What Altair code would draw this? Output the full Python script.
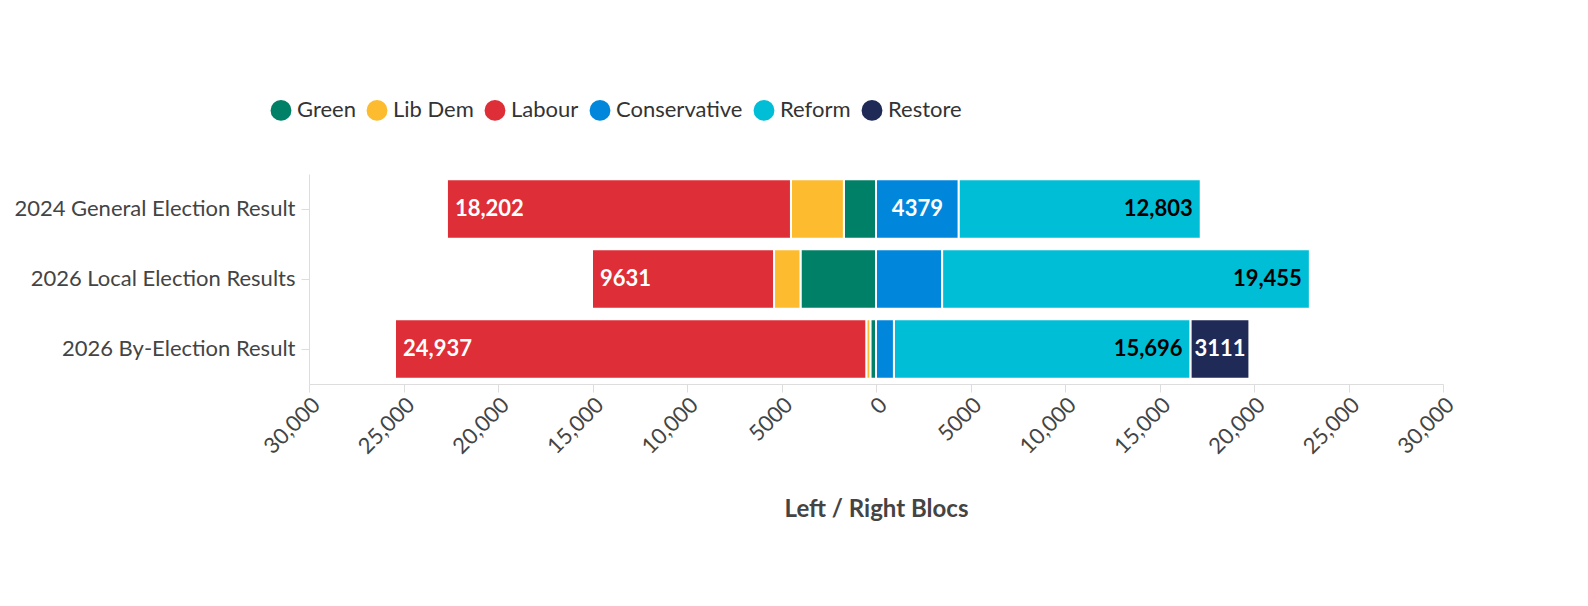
import altair as alt
import pandas as pd

rows = ["2024 General Election Result", "2026 Local Election Results", "2026 By-Election Result"]
parties = ["Green", "Lib Dem", "Labour", "Conservative", "Reform", "Restore"]
colors = ["#008066", "#FDBB30", "#DE2E37", "#0087DC", "#00BED6", "#1F2A56"]
left_parties = {"Green", "Lib Dem", "Labour"}
votes = {
    "Green":        [1700, 3995, 300],
    "Lib Dem":      [2800, 1400, 213],
    "Labour":       [18202, 9631, 24937],
    "Conservative": [4379, 3500, 950],
    "Reform":       [12803, 19455, 15696],
    "Restore":      [0, 0, 3111],
}
shown = {("2024 General Election Result", "Labour"), ("2024 General Election Result", "Conservative"),
         ("2024 General Election Result", "Reform"), ("2026 Local Election Results", "Labour"),
         ("2026 Local Election Results", "Reform"), ("2026 By-Election Result", "Labour"),
         ("2026 By-Election Result", "Reform"), ("2026 By-Election Result", "Restore")}

def fmt(v):
    return f"{v:,}" if v >= 10000 else str(v)

recs = []
for i, r in enumerate(rows):
    neg, pos = 0, 0
    for k, p in enumerate(parties):
        v = votes[p][i]
        if p in left_parties:
            x0, x1 = neg, neg - v
            neg = x1
        else:
            x0, x1 = pos, pos + v
            pos = x1
        recs.append(dict(row=r, party=p, order=k, x0=x0, x1=x1, votes=v,
                         label=fmt(v) if (r, p) in shown else "",
                         mid=(x0 + x1) / 2))
df = pd.DataFrame(recs)
df = df[df.votes > 0]

xscale = alt.Scale(domain=[-30000, 30000])
yenc = alt.Y("row:N", sort=rows, title=None,
             axis=alt.Axis(labelFontSize=22, labelColor="#444", labelFont="Lato", labelLimit=0,
                           domainColor="#ddd", tickColor="#ddd", tickSize=8, labelPadding=6))
bars = alt.Chart(df).mark_bar(stroke="white", strokeWidth=2).encode(
    x=alt.X("x0:Q", scale=xscale, title="Left / Right Blocs",
            axis=alt.Axis(values=list(range(-30000, 30001, 5000)), grid=False,
                          labelExpr="abs(datum.value) >= 10000 ? format(abs(datum.value), ',') : format(abs(datum.value), 'd')",
                          labelAngle=-45, labelFontSize=22, labelColor="#444", labelFont="Lato",
                          titleFontSize=24, titleFont="Lato", titleColor="#444", titleFontWeight="bold",
                          titlePadding=40, domainColor="#ddd", tickColor="#ddd", tickSize=8)),
    x2="x1:Q",
    y=yenc,
    color=alt.Color("party:N", scale=alt.Scale(domain=parties, range=colors), title=None,
                    legend=alt.Legend(orient="none", legendX=-40, legendY=-76, direction="horizontal",
                                      symbolType="circle", symbolSize=500,
                                      labelFontSize=22, labelFont="Lato", labelColor="#333",
                                      symbolOpacity=1, columnPadding=6, labelOffset=4)),
)

base = alt.Chart(df).encode(y=alt.Y("row:N", sort=rows), text="label:N")
tf = dict(fontSize=22, font="Lato", fontWeight="bold")
lab = base.transform_filter("datum.party == 'Labour'").mark_text(align="left", dx=8, color="white", **tf).encode(x=alt.X("x1:Q", scale=xscale))
ref = base.transform_filter("datum.party == 'Reform'").mark_text(align="right", dx=-8, color="black", **tf).encode(x=alt.X("x1:Q", scale=xscale))
mid = base.transform_filter("datum.party == 'Conservative' || datum.party == 'Restore'").mark_text(align="center", color="white", **tf).encode(x=alt.X("mid:Q", scale=xscale))

chart = alt.layer(bars, lab, ref, mid).properties(width=1134, height=210, padding={"left": 5, "top": 90, "right": 5, "bottom": 5}).configure_view(stroke=None).configure_scale(bandPaddingInner=0.15)
chart.save("out.html", embed_options={"renderer": "svg", "actions": False})
